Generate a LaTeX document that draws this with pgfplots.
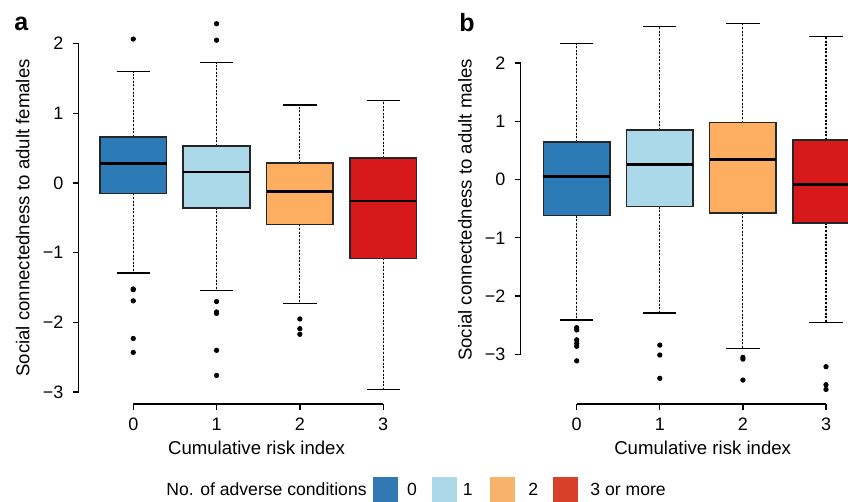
\documentclass[border=0pt]{standalone}
\usepackage{fontspec}
\setmainfont{Liberation Sans}
\usepackage{pgfplots}
\pgfplotsset{compat=1.18}
\usepgfplotslibrary{statistics}

\definecolor{c0}{HTML}{2C7BB6}
\definecolor{c1}{HTML}{ABD9E9}
\definecolor{c2}{HTML}{FDAE61}
\definecolor{c3}{HTML}{D7191C}
\definecolor{l0}{HTML}{3179B5}
\definecolor{l1}{HTML}{ABD9E9}
\definecolor{l2}{HTML}{F7B36C}
\definecolor{l3}{HTML}{D9402A}

\pgfplotsset{
  rbox/.style={
    clip=false, anchor=south west,
    axis x line*=bottom, axis y line*=left, axis line style={draw=none},
    xmin=-0.66, xmax=3.66,
    xtick={0,1,2,3}, xticklabels={0,1,2,3},
    ytick={-3,-2,-1,0,1,2}, yticklabels={−3,−2,−1,0,1,2},
    tick align=outside, major tick length=3pt,
    tick style={black, line width=0.65pt},
    tick label style={font=\fontsize{9}{10}\selectfont, inner sep=0pt},
    xticklabel style={anchor=north, yshift=-4pt},
    yticklabel style={anchor=east, xshift=-4.5pt},
    boxplot/draw direction=y,
    boxplot/box extend=0.8,
    boxplot/whisker extend=0.4,
    boxplot/every box/.style={draw=black!85, line width=0.8pt},
    boxplot/every median/.style={draw=black, line width=1.4pt},
    boxplot/draw/lower whisker/.code={
      \draw[black, line width=0.55pt, dash pattern=on 1pt off 0.8pt]
        (boxplot cs:\pgfplotsboxplotvalue{lower quartile}) --
        (boxplot cs:\pgfplotsboxplotvalue{lower whisker});
      \draw[black, line width=0.6pt, solid]
        (boxplot whisker cs:\pgfplotsboxplotvalue{lower whisker},0) --
        (boxplot whisker cs:\pgfplotsboxplotvalue{lower whisker},1);
    },
    boxplot/draw/upper whisker/.code={
      \draw[black, line width=0.55pt, dash pattern=on 1pt off 0.8pt]
        (boxplot cs:\pgfplotsboxplotvalue{upper quartile}) --
        (boxplot cs:\pgfplotsboxplotvalue{upper whisker});
      \draw[black, line width=0.6pt, solid]
        (boxplot whisker cs:\pgfplotsboxplotvalue{upper whisker},0) --
        (boxplot whisker cs:\pgfplotsboxplotvalue{upper whisker},1);
    },
  },
  bx/.style={fill=#1, mark=*, mark size=1.1pt, mark options={fill=black, draw=black, solid}},
}

\begin{document}
\begin{tikzpicture}

% panel a
\begin{axis}[rbox, at={(39.35pt,49pt)}, x=41.65pt, y=34.85pt, xmin=-0.655, ymin=-3.17, ymax=2.5]
  \addplot[bx=c0, boxplot prepared={draw position=0, lower whisker=-1.29, lower quartile=-0.148,
    median=0.277, upper quartile=0.664, upper whisker=1.597}]
    table[row sep=\\, y index=0] {d\\ 2.066\\ -1.52\\ -1.53\\ -1.69\\ -2.23\\ -2.43\\};
  \addplot[bx=c1, boxplot prepared={draw position=1, lower whisker=-1.54, lower quartile=-0.354,
    median=0.158, upper quartile=0.535, upper whisker=1.726}]
    table[row sep=\\, y index=0] {d\\ 2.05\\ 2.286\\ -1.70\\ -1.85\\ -1.87\\ -2.40\\ -2.76\\};
  \addplot[bx=c2, boxplot prepared={draw position=2, lower whisker=-1.726, lower quartile=-0.593,
    median=-0.125, upper quartile=0.291, upper whisker=1.119}]
    table[row sep=\\, y index=0] {d\\ -1.95\\ -2.09\\ -2.17\\};
  \addplot[bx=c3, boxplot prepared={draw position=3, lower whisker=-2.96, lower quartile=-1.08,
    median=-0.258, upper quartile=0.359, upper whisker=1.181}]
    coordinates {};
  \draw[line width=0.65pt] (axis cs:-0.655,-3) -- (axis cs:-0.655,2);
  \draw[line width=0.65pt] (axis cs:0,-3.17) -- (axis cs:3,-3.17);
\end{axis}

% panel b
\begin{axis}[rbox, at={(260.35pt,49pt)}, x=41.55pt, y=29.15pt, xmin=-0.674, ymin=-3.85, ymax=2.92]
  \addplot[bx=c0, boxplot prepared={draw position=0, lower whisker=-2.41, lower quartile=-0.617,
    median=0.046, upper quartile=0.647, upper whisker=2.33}]
    table[row sep=\\, y index=0] {d\\ -2.54\\ -2.58\\ -2.75\\ -2.81\\ -2.86\\ -3.11\\};
  \addplot[bx=c1, boxplot prepared={draw position=1, lower whisker=-2.29, lower quartile=-0.463,
    median=0.257, upper quartile=0.852, upper whisker=2.62}]
    table[row sep=\\, y index=0] {d\\ -2.84\\ -3.01\\ -3.41\\};
  \addplot[bx=c2, boxplot prepared={draw position=2, lower whisker=-2.90, lower quartile=-0.571,
    median=0.338, upper quartile=0.978, upper whisker=2.67}]
    table[row sep=\\, y index=0] {d\\ -3.05\\ -3.08\\ -3.44\\};
  \addplot[bx=c3, boxplot prepared={draw position=3, lower whisker=-2.45, lower quartile=-0.743,
    median=-0.086, upper quartile=0.681, upper whisker=2.45}]
    table[row sep=\\, y index=0] {d\\ -3.21\\ -3.52\\ -3.60\\};
  \draw[line width=0.65pt] (axis cs:-0.674,-3) -- (axis cs:-0.674,2);
  \draw[line width=0.65pt] (axis cs:0,-3.85) -- (axis cs:3,-3.85);
\end{axis}

% labels and legend, in pixel units of the reference
\begin{scope}[x=0.5pt, y=-0.5pt, shift={(0pt,251pt)}]
  \node[anchor=base west, font=\bfseries\fontsize{12.5}{14}\selectfont, inner sep=0pt] at (14,30.7) {a};
  \node[anchor=base west, font=\bfseries\fontsize{12.5}{14}\selectfont, inner sep=0pt] at (459,31.7) {b};
  \node[rotate=90, anchor=base, font=\fontsize{9.3}{11}\selectfont, inner sep=0pt] at (29.3,218) {Social connectedness to adult females};
  \node[rotate=90, anchor=base, font=\fontsize{9.3}{11}\selectfont, inner sep=0pt] at (471.7,210) {Social connectedness to adult males};
  \node[anchor=base, font=\fontsize{9.3}{11}\selectfont, inner sep=0pt] at (256.5,455) {Cumulative risk index};
  \node[anchor=base, font=\fontsize{9.3}{11}\selectfont, inner sep=0pt] at (702.7,455) {Cumulative risk index};
  \begin{scope}[every node/.style={anchor=base west, font=\fontsize{8.8}{10}\selectfont, inner sep=0pt}]
    \node at (166,496) {No. of adverse conditions};
    \fill[l0] (373,476.7) rectangle (398,501.7);
    \node at (406.7,496) {0};
    \fill[l1] (432,476.7) rectangle (456.7,501.7);
    \node at (462.5,496) {1};
    \fill[l2] (490,476.7) rectangle (515,501.7);
    \node at (528,496) {2};
    \fill[l3] (552.7,476.7) rectangle (577.7,501.7);
    \node at (590,496) {3 or more};
  \end{scope}
\end{scope}

\pgfresetboundingbox
\path[use as bounding box] (0,0) rectangle (424pt,251pt);
\end{tikzpicture}
\end{document}
